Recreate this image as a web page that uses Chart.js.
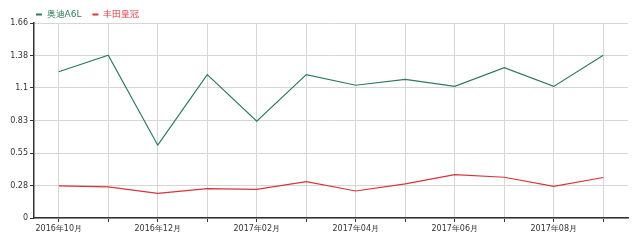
<!DOCTYPE html>
<html>
<head>
<meta charset="utf-8">
<script src="https://cdn.jsdelivr.net/npm/chart.js@4"></script>
<style>
  html, body { margin: 0; padding: 0; background: #fff; }
  #wrap { width: 640px; height: 243px; position: relative; }
</style>
</head>
<body>
<div id="wrap"><canvas id="chart"></canvas></div>
<script>
const months = ['2016年10月', '2016年11月', '2016年12月', '2017年01月', '2017年02月', '2017年03月',
                '2017年04月', '2017年05月', '2017年06月', '2017年07月', '2017年08月', '2017年09月'];
const audiA6L = [1.245, 1.385, 0.62, 1.22, 0.825, 1.22, 1.13, 1.18, 1.12, 1.28, 1.12, 1.385];
const toyotaCrown = [0.274, 0.265, 0.21, 0.25, 0.243, 0.31, 0.23, 0.29, 0.37, 0.347, 0.27, 0.345];
const yTickLabels = ['0', '0.28', '0.55', '0.83', '1.1', '1.38', '1.66'];
const yMax = 1.66;

// legend: fixed height, moved over the y axis
const legendTweak = {
    id: 'legendTweak',
    beforeLayout(chart) {
        const lg = chart.legend;
        if (lg && !lg._patched) {
            const fit = lg.fit.bind(lg);
            lg.fit = function () { fit(); this.height = 23; };
            lg._patched = true;
        }
    },
    afterLayout(chart) {
        const lg = chart.legend;
        const dx = 25 - lg.left;
        lg.left += dx; lg.right += dx;
        lg.top -= 1; lg.bottom -= 1;
    }
};

const ctx = document.getElementById('chart').getContext('2d');
new Chart(ctx, {
    type: 'line',
    data: {
        labels: months,
        datasets: [
            { label: '奥迪A6L', data: audiA6L, borderColor: '#2f7a5a', backgroundColor: '#2f7a5a', borderWidth: 1.2, pointRadius: 0, tension: 0 },
            { label: '丰田皇冠', data: toyotaCrown, borderColor: '#d8343c', backgroundColor: '#d8343c', borderWidth: 1.2, pointRadius: 0, tension: 0 }
        ]
    },
    plugins: [legendTweak],
    options: {
        responsive: true,
        maintainAspectRatio: false,
        animation: false,
        layout: { padding: { left: 0, right: 12, top: 0, bottom: 0 } },
        plugins: {
            legend: {
                align: 'start',
                labels: {
                    usePointStyle: true,
                    pointStyle: 'line',
                    pointStyleWidth: 6,
                    boxHeight: 6,
                    padding: 11,
                    font: { size: 9, family: 'DejaVu Sans' },
                    generateLabels: chart => chart.data.datasets.map((ds, i) => ({
                        text: ds.label, fillStyle: ds.borderColor, strokeStyle: ds.borderColor,
                        fontColor: ds.borderColor, lineWidth: 2, pointStyle: 'line', datasetIndex: i
                    }))
                }
            },
            tooltip: { enabled: false }
        },
        scales: {
            x: {
                offset: true,
                grid: { color: '#d6d6d6', drawTicks: true, tickLength: 4, tickColor: '#333', offset: false },
                border: { color: '#333', width: 1.5 },
                ticks: {
                    autoSkip: false, maxRotation: 0, color: '#333', padding: 2,
                    font: { size: 8, family: 'DejaVu Sans' },
                    callback: (v, i) => i % 2 === 0 ? months[i] : ''
                },
                afterFit: s => { s.height = 25; }
            },
            y: {
                min: 0, max: yMax,
                afterBuildTicks: s => { s.ticks = yTickLabels.map((t, i) => ({ value: i * yMax / 6 })); },
                grid: { color: '#d6d6d6', tickLength: 4, tickColor: '#333' },
                border: { color: '#333', width: 1.5 },
                ticks: {
                    color: '#333', padding: 2,
                    font: { size: 8, family: 'DejaVu Sans' },
                    callback: (v, i) => yTickLabels[i]
                },
                afterFit: s => { s.width = 34; }
            }
        }
    }
});
</script>
</body>
</html>
